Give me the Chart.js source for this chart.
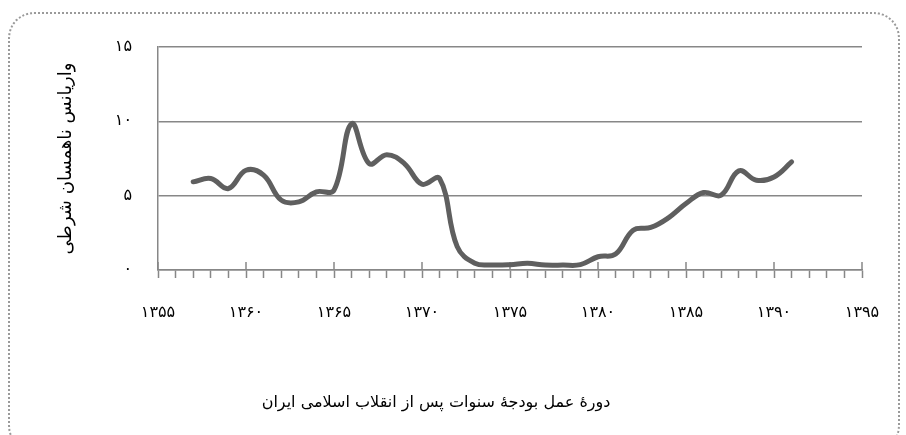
<!DOCTYPE html>
<html lang="fa">
<head>
    <meta charset="UTF-8">
    <title>واریانس ناهمسان شرطی</title>
    <script src="https://cdn.jsdelivr.net/npm/chart.js"></script>
    <style>
        body { margin: 0; background: #fff; }
        #wrap { position: relative; width: 906px; height: 435px; overflow: hidden; }
        #frame {
            position: absolute; left: 8px; top: 12px; width: 892px; height: 440px;
            border: 2px dotted #9a9a9a; border-radius: 26px; box-sizing: border-box;
            pointer-events: none;
        }
        #xtitle {
            position: absolute; left: 236px; top: 392px; width: 400px;
            text-align: center; direction: rtl;
            font: 16px "DejaVu Sans"; color: #000;
        }
    </style>
</head>
<body>
    <div id="wrap">
        <canvas id="chart" width="906" height="435"></canvas>
        <div id="xtitle"></div>
        <div id="frame"></div>
    </div>

    <script>
        // years of the budget period (solar hijri) and the conditional variance values
        const years = [1357, 1358, 1359, 1360, 1361, 1362, 1363, 1364, 1365, 1366,
                       1367, 1368, 1369, 1370, 1371, 1372, 1373, 1374, 1375, 1376,
                       1377, 1378, 1379, 1380, 1381, 1382, 1383, 1384, 1385, 1386,
                       1387, 1388, 1389, 1390, 1391];
        const variance = [5.93, 6.15, 5.48, 6.71, 6.38, 4.70, 4.58, 5.26, 5.37, 9.84,
                          7.16, 7.76, 7.16, 5.77, 6.15, 1.57, 0.45, 0.34, 0.36, 0.45,
                          0.33, 0.33, 0.36, 0.89, 1.07, 2.68, 2.86, 3.51, 4.47, 5.21,
                          5.03, 6.67, 6.04, 6.26, 7.27];
        const xRange = [1355, 1395];
        const yTicks = [0, 5, 10, 15];

        const xTitle = 'دورهٔ عمل بودجهٔ سنوات پس از انقلاب اسلامی ایران';
        const yTitle = 'واریانس ناهمسان شرطی';

        document.getElementById('xtitle').textContent = xTitle;

        const faDigits = '۰۱۲۳۴۵۶۷۸۹';
        function toFa(n) {
            return String(n).replace(/[0-9]/g, d => faDigits[d]);
        }

        const axisGray = '#878787';
        const font = { family: 'DejaVu Sans', size: 16 };

        // major ticks cross the axis line, minor ones only hang below it
        const majorTicks = {
            id: 'majorTicks',
            beforeDatasetsDraw(chart) {
                const x = chart.scales.x;
                const ctx = chart.ctx;
                ctx.save();
                ctx.strokeStyle = axisGray;
                ctx.lineWidth = 1.5;
                for (let v = xRange[0]; v <= xRange[1]; v += 5) {
                    const px = x.getPixelForValue(v);
                    ctx.beginPath();
                    ctx.moveTo(px, x.top - 8);
                    ctx.lineTo(px, x.top);
                    ctx.stroke();
                }
                ctx.restore();
            }
        };

        new Chart(document.getElementById('chart'), {
            type: 'line',
            data: {
                datasets: [{
                    data: years.map((y, i) => ({ x: y, y: variance[i] })),
                    borderColor: '#5f5f5f',
                    borderWidth: 5,
                    borderCapStyle: 'round',
                    borderJoinStyle: 'round',
                    pointRadius: 0,
                    tension: 0.4,
                    fill: false
                }]
            },
            options: {
                responsive: false,
                animation: false,
                layout: { padding: { left: 50, right: 44, top: 47, bottom: 10 } },
                plugins: {
                    legend: { display: false },
                    tooltip: { enabled: false }
                },
                scales: {
                    x: {
                        type: 'linear',
                        min: xRange[0],
                        max: xRange[1],
                        afterFit: s => { s.height = 155; },
                        ticks: {
                            stepSize: 1,
                            autoSkip: false,
                            maxRotation: 0,
                            padding: 25,
                            color: '#000',
                            font: font,
                            callback: v => (v % 5 === 0 ? toFa(v) : '')
                        },
                        grid: {
                            drawOnChartArea: false,
                            tickLength: 8,
                            tickColor: axisGray,
                            tickWidth: 1.5
                        },
                        border: { color: axisGray, width: 1.5 }
                    },
                    y: {
                        min: 0,
                        max: 15,
                        afterFit: s => { s.width = 108; },
                        afterBuildTicks: s => { s.ticks = yTicks.map(v => ({ value: v })); },
                        ticks: {
                            padding: 26,
                            color: '#000',
                            font: font,
                            callback: v => toFa(v)
                        },
                        grid: {
                            color: axisGray,
                            lineWidth: 1.5,
                            drawTicks: false
                        },
                        border: { color: axisGray, width: 1.5 },
                        title: {
                            display: true,
                            text: yTitle,
                            color: '#000',
                            font: { family: 'DejaVu Sans', size: 18 },
                            padding: { top: 6, bottom: 0 }
                        }
                    }
                }
            },
            plugins: [majorTicks]
        });
    </script>
</body>
</html>
